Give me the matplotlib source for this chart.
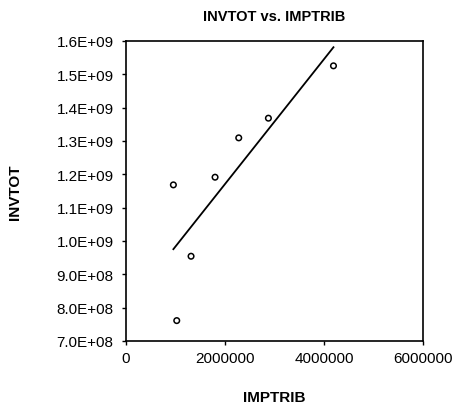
import numpy as np
import matplotlib
matplotlib.use("Agg")
import matplotlib.pyplot as plt
from matplotlib.ticker import FuncFormatter, MultipleLocator

# data
imptrib = [956000, 1024000, 1313000, 1798000, 2276000, 2875000, 4189000]
invtot = [1.168e9, 0.761e9, 0.954e9, 1.191e9, 1.309e9, 1.368e9, 1.525e9]

x_ticks = [0, 2000000, 4000000, 6000000]

plt.rcParams['font.family'] = ['Liberation Sans', 'DejaVu Sans']

fig = plt.figure(figsize=(4.55, 4.10), dpi=100)
ax = fig.add_axes([0.277, 0.166, 0.653, 0.732])

x = np.array(imptrib)
y = np.array(invtot)

# fitted line across the data range
slope, icept = np.polyfit(x, y, 1)
xs = np.array([x.min(), x.max()])
ax.plot(xs, slope * xs + icept, color='black', linewidth=1.3)

ax.scatter(x, y, s=16, facecolors='none', edgecolors='black', linewidths=1.1, zorder=3)

ax.set_xlim(0, 6000000)
ax.set_ylim(7.0e8, 1.6e9)
ax.set_xticks(x_ticks)
ax.yaxis.set_major_locator(MultipleLocator(1e8))
ax.xaxis.set_major_formatter(FuncFormatter(lambda v, p: f"{int(v)}"))
ax.yaxis.set_major_formatter(FuncFormatter(lambda v, p: f"{v:.1E}"))

ax.tick_params(direction='out', length=3, width=1, labelsize=11, colors='black')
ax.tick_params(axis='y', pad=6)
ax.tick_params(axis='x', pad=4)
for s in ax.spines.values():
    s.set_linewidth(1.2)

ax.set_title('INVTOT vs. IMPTRIB', fontsize=10.5, fontweight='bold', pad=15)
ax.set_xlabel('IMPTRIB', fontsize=11, fontweight='bold', labelpad=18)
ax.set_ylabel('INVTOT', fontsize=11, fontweight='bold', labelpad=25)

fig.savefig('out.png', dpi=100)
